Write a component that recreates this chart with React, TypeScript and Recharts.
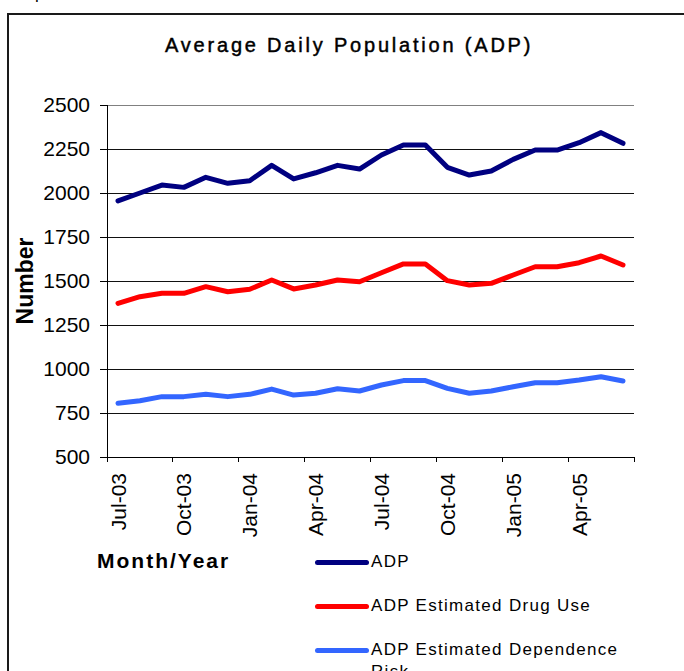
import { CartesianGrid, Label, Line, LineChart, ReferenceLine, XAxis, YAxis } from 'recharts';

const months = [
  'Jul-03', 'Aug-03', 'Sep-03', 'Oct-03', 'Nov-03', 'Dec-03',
  'Jan-04', 'Feb-04', 'Mar-04', 'Apr-04', 'May-04', 'Jun-04',
  'Jul-04', 'Aug-04', 'Sep-04', 'Oct-04', 'Nov-04', 'Dec-04',
  'Jan-05', 'Feb-05', 'Mar-05', 'Apr-05', 'May-05', 'Jun-05',
];

const adp = [
  1955, 2000, 2045, 2032, 2089, 2055, 2070, 2157, 2080, 2115, 2157, 2136,
  2216, 2273, 2273, 2146, 2102, 2125, 2191, 2244, 2244, 2286, 2343, 2282,
];

const drugUse = [
  1373, 1411, 1430, 1430, 1468, 1439, 1453, 1506, 1455, 1477, 1506, 1496,
  1547, 1597, 1597, 1502, 1477, 1487, 1534, 1581, 1581, 1604, 1642, 1591,
];

const dependenceRisk = [
  805, 820, 843, 843, 856, 843, 856, 886, 852, 862, 888, 875,
  909, 934, 934, 890, 862, 875, 899, 922, 922, 937, 956, 932,
];

const yTicks = [500, 750, 1000, 1250, 1500, 1750, 2000, 2250, 2500];

const series = [
  { key: 'adp', name: 'ADP', color: '#000080' },
  { key: 'drugUse', name: 'ADP Estimated Drug Use', color: '#ff0000' },
  { key: 'dependenceRisk', name: 'ADP Estimated Dependence Risk', color: '#3366ff' },
];

const data = months.map((month, i) => ({
  month,
  adp: adp[i],
  drugUse: drugUse[i],
  dependenceRisk: dependenceRisk[i],
}));

const FONT = '"Liberation Sans", Arial, sans-serif';
const HALF_STEP = 11;

function MonthTick(props: any) {
  const { x, y, payload } = props;
  const index = payload.index;
  const showLabel = index % 3 === 0;
  const isLast = index === months.length - 1;
  return (
    <g>
      {showLabel && (
        <line x1={x - HALF_STEP} y1={y} x2={x - HALF_STEP} y2={y + 5} stroke="#000" shapeRendering="crispEdges" />
      )}
      {isLast && (
        <line x1={x + HALF_STEP} y1={y} x2={x + HALF_STEP} y2={y + 5} stroke="#000" shapeRendering="crispEdges" />
      )}
      {showLabel && (
        <text
          x={x}
          y={y + 16}
          transform={`rotate(-90 ${x} ${y + 16})`}
          textAnchor="end"
          dominantBaseline="central"
          fill="#000"
          fontSize={21}
          fontFamily={FONT}
        >
          {payload.value}
        </text>
      )}
    </g>
  );
}

export default function App() {
  return (
    <div
      style={{
        position: 'fixed',
        top: 0,
        left: 0,
        width: 684,
        height: 671,
        overflow: 'hidden',
        background: '#fff',
        fontFamily: FONT,
      }}
    >
      <div style={{ position: 'absolute', left: 35, top: -15, fontSize: 17, lineHeight: '17px' }}>p</div>
      <div
        style={{
          position: 'absolute',
          left: 7,
          top: 13,
          width: 720,
          height: 720,
          border: '2px solid #1a1a1a',
        }}
      />
      <div
        style={{
          position: 'absolute',
          left: 165,
          top: 35,
          fontSize: 20,
          lineHeight: '20px',
          letterSpacing: 2.8,
          whiteSpace: 'nowrap',
          color: '#000',
          WebkitTextStroke: '0.45px #000',
        }}
      >
        Average Daily Population (ADP)
      </div>

      <div style={{ position: 'absolute', left: 0, top: 0 }}>
        <LineChart
          width={684}
          height={700}
          data={data}
          margin={{ top: 105, right: 50, bottom: 143, left: 0 }}
        >
          <CartesianGrid horizontal vertical={false} stroke="#111" strokeWidth={1} shapeRendering="crispEdges" />
          <ReferenceLine y={2500} stroke="#808080" strokeWidth={1} shapeRendering="crispEdges" />
          <XAxis
            dataKey="month"
            interval={0}
            height={100}
            padding={{ left: HALF_STEP, right: HALF_STEP }}
            tickSize={0}
            tickMargin={0}
            tickLine={false}
            axisLine={{ stroke: '#000', shapeRendering: 'crispEdges' }}
            tick={<MonthTick />}
          >
            <Label
              content={() => (
                <text
                  x={97}
                  y={568}
                  fontSize={21}
                  fontWeight="bold"
                  letterSpacing={2}
                  fontFamily={FONT}
                  fill="#000"
                >
                  Month/Year
                </text>
              )}
            />
          </XAxis>
          <YAxis
            width={107}
            domain={[500, 2500]}
            ticks={yTicks}
            interval={0}
            tickSize={7}
            tickMargin={10}
            axisLine={{ stroke: '#000', shapeRendering: 'crispEdges' }}
            tickLine={{ stroke: '#000', shapeRendering: 'crispEdges' }}
            tick={{ fill: '#000', fontSize: 21, fontFamily: FONT }}
          >
            <Label
              content={() => (
                <text
                  x={25}
                  y={281}
                  transform="rotate(-90 25 281)"
                  textAnchor="middle"
                  dominantBaseline="central"
                  fontSize={23}
                  fontWeight="bold"
                  fontFamily={FONT}
                  fill="#000"
                >
                  Number
                </text>
              )}
            />
          </YAxis>
          {series.map((s) => (
            <Line
              key={s.key}
              type="linear"
              dataKey={s.key}
              name={s.name}
              stroke={s.color}
              strokeWidth={5}
              strokeLinecap="round"
              strokeLinejoin="round"
              dot={false}
              activeDot={false}
              isAnimationActive={false}
            />
          ))}
        </LineChart>
      </div>

      {series.map((s, i) => (
        <div
          key={s.key}
          style={{
            position: 'absolute',
            left: 315,
            top: 552 + i * 44,
            display: 'flex',
            alignItems: 'flex-start',
          }}
        >
          <div
            style={{
              width: 54,
              height: 5,
              marginTop: 7.5,
              borderRadius: 3,
              background: s.color,
            }}
          />
          <div
            style={{
              marginLeft: 2,
              width: 260,
              fontSize: 17,
              lineHeight: '22px',
              marginTop: -1,
              letterSpacing: 1.3,
              color: '#000',
            }}
          >
            {s.name}
          </div>
        </div>
      ))}
    </div>
  );
}
